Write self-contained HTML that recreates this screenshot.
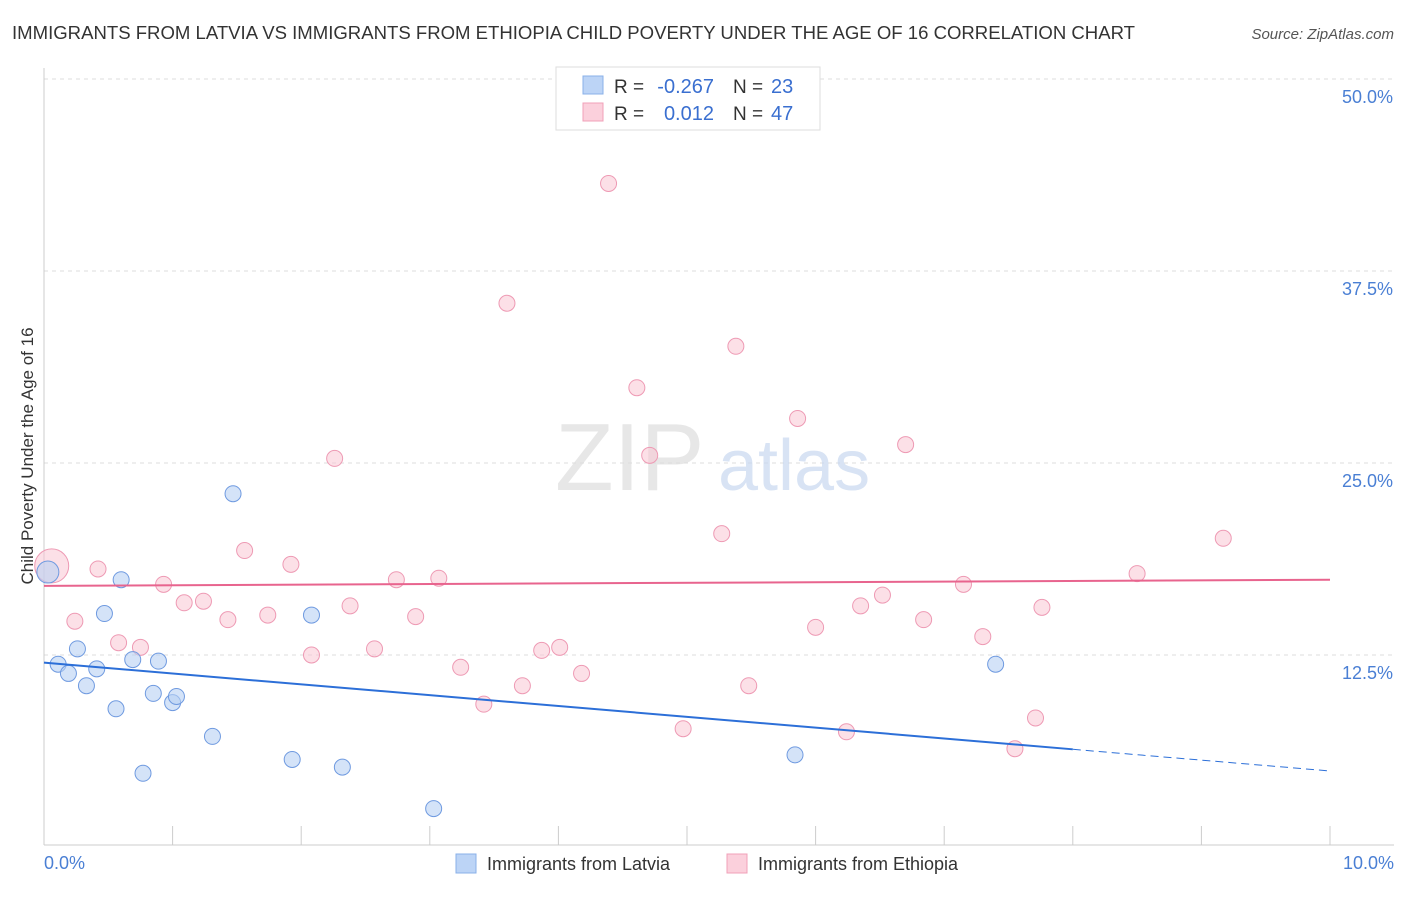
<!DOCTYPE html>
<html><head><meta charset="utf-8"><style>
body{margin:0;background:#fff;font-family:"Liberation Sans",sans-serif;}
svg text{font-family:"Liberation Sans",sans-serif;}
</style></head><body>
<svg id="chart" width="1406" height="892" xmlns="http://www.w3.org/2000/svg">
<text x="12" y="39" font-size="18" fill="#333" textLength="1123" lengthAdjust="spacingAndGlyphs">IMMIGRANTS FROM LATVIA VS IMMIGRANTS FROM ETHIOPIA CHILD POVERTY UNDER THE AGE OF 16 CORRELATION CHART</text>
<text x="1394" y="39" font-size="15" fill="#555" text-anchor="end" font-style="italic">Source: ZipAtlas.com</text>
<g id="grid"></g>
<g><text x="555" y="490" font-size="96" fill="#ddd" font-family="Liberation Serif" opacity="0.7">ZIP</text><text x="718" y="490" font-size="72" fill="#c8d8f0" opacity="0.7">atlas</text></g>
<g id="marks"></g>
<text transform="translate(33,456) rotate(-90)" font-size="17" fill="#333" text-anchor="middle">Child Poverty Under the Age of 16</text>
<text x="44" y="869" font-size="18" fill="#4a7fd4">0.0%</text>
<text x="1394" y="869" font-size="18" fill="#4a7fd4" text-anchor="end">10.0%</text>
<g>
<rect x="556" y="67" width="264" height="63" fill="#fff" stroke="#ddd"/>
<rect x="583" y="76" width="20" height="18" fill="#bcd4f6" stroke="#8ab0e8"/>
<rect x="583" y="103" width="20" height="18" fill="#fbd0dc" stroke="#f0a0b8"/>
<text x="614" y="93" font-size="19" fill="#333">R =</text>
<text x="714" y="93" font-size="20" fill="#3a6fd0" text-anchor="end">-0.267</text>
<text x="733" y="93" font-size="19" fill="#333">N =</text>
<text x="771" y="93" font-size="20" fill="#3a6fd0">23</text>
<text x="614" y="120" font-size="19" fill="#333">R =</text>
<text x="714" y="120" font-size="20" fill="#3a6fd0" text-anchor="end">0.012</text>
<text x="733" y="120" font-size="19" fill="#333">N =</text>
<text x="771" y="120" font-size="20" fill="#3a6fd0">47</text>
</g>
<g>
<rect x="456" y="854" width="20" height="19" fill="#bcd4f6" stroke="#8ab0e8"/>
<text x="487" y="870" font-size="18" fill="#333">Immigrants from Latvia</text>
<rect x="727" y="854" width="20" height="19" fill="#fbd0dc" stroke="#f0a0b8"/>
<text x="758" y="870" font-size="18" fill="#333">Immigrants from Ethiopia</text>
</g>
</svg>
<script>
const latviaX=[0.03,0.11,0.19,0.26,0.33,0.41,0.47,0.56,0.60,0.69,0.77,0.85,0.89,1.00,1.03,1.31,1.47,1.93,2.08,2.32,3.03,5.84,7.40];
const latviaY=[17.9,11.9,11.3,12.9,10.5,11.6,15.2,9.0,17.4,12.2,4.8,10.0,12.1,9.4,9.8,7.2,23.0,5.7,15.1,5.2,2.5,6.0,11.9];
const ethX=[0.06,0.24,0.42,0.58,0.75,0.93,1.09,1.24,1.43,1.56,1.74,1.92,2.08,2.26,2.38,2.57,2.74,2.89,3.07,3.24,3.42,3.60,3.72,3.87,4.01,4.18,4.39,4.61,4.71,4.97,5.27,5.38,5.48,5.86,6.00,6.24,6.35,6.52,6.70,6.84,7.15,7.30,7.55,7.71,7.76,8.50,9.17];
const ethY=[18.3,14.7,18.1,13.3,13.0,17.1,15.9,16.0,14.8,19.3,15.1,18.4,12.5,25.3,15.7,12.9,17.4,15.0,17.5,11.7,9.3,35.4,10.5,12.8,13.0,11.3,43.2,29.9,25.5,7.7,20.4,32.6,10.5,27.9,14.3,7.5,15.7,16.4,26.2,14.8,17.1,13.7,6.4,8.4,15.6,17.8,20.1];
const yTicks=[12.5,25.0,37.5,50.0];
const latviaTrend=[12.0,4.95];
const ethTrend=[17.0,17.4];
const latviaSolidEnd=8.0;
const NS="http://www.w3.org/2000/svg";
const X=v=>44+v*128.6, Y=v=>847-v*15.36;
function mk(tag,attrs,parent){const e=document.createElementNS(NS,tag);for(const k in attrs)e.setAttribute(k,attrs[k]);parent.appendChild(e);return e;}
const grid=document.getElementById('grid'), marks=document.getElementById('marks');
yTicks.forEach(t=>{
 const l=mk('line',{x1:44,x2:1394,y1:Y(t),y2:Y(t),stroke:'#ddd','stroke-dasharray':'4,4'},grid);
 
 
 const tx=mk('text',{x:1393,y:Y(t)+24,'font-size':18,fill:'#4a7fd4','text-anchor':'end'},grid);
 tx.textContent=t.toFixed(1)+'%';
 
 
});
const ax=mk('line',{x1:44,x2:44,y1:68,y2:845,stroke:'#ccc'},grid);


const bx=mk('line',{x1:44,x2:1394,y1:845,y2:845,stroke:'#ccc'},grid);


for(let i=0;i<=10;i++){const t=mk('line',{x1:X(i),x2:X(i),y1:826,y2:845,stroke:'#ccc'},grid);
 
 }
ethX.forEach((x,i)=>{const c=mk('circle',{cx:X(x),cy:Y(ethY[i]),r:i===0?17:8,fill:'#f9c6d4','fill-opacity':0.55,stroke:'#ee9ab4','stroke-width':1},marks);
 
 });
latviaX.forEach((x,i)=>{const c=mk('circle',{cx:X(x),cy:Y(latviaY[i]),r:i===0?11:8,fill:'#b8d0f4','fill-opacity':0.6,stroke:'#6f9ae0','stroke-width':1},marks);
 
 });
const ly=x=>latviaTrend[0]+(latviaTrend[1]-latviaTrend[0])*x/10;
const l1=mk('line',{x1:X(0),y1:Y(ly(0)),x2:X(latviaSolidEnd),y2:Y(ly(latviaSolidEnd)),stroke:'#2c6fd8','stroke-width':2},marks);


const l2=mk('line',{x1:X(latviaSolidEnd),y1:Y(ly(latviaSolidEnd)),x2:X(10),y2:Y(ly(10)),stroke:'#2c6fd8','stroke-width':1,'stroke-dasharray':'8,5'},marks);


const l3=mk('line',{x1:X(0),y1:Y(ethTrend[0]),x2:X(10),y2:Y(ethTrend[1]),stroke:'#e8648e','stroke-width':2},marks);


</script>
</body></html>
